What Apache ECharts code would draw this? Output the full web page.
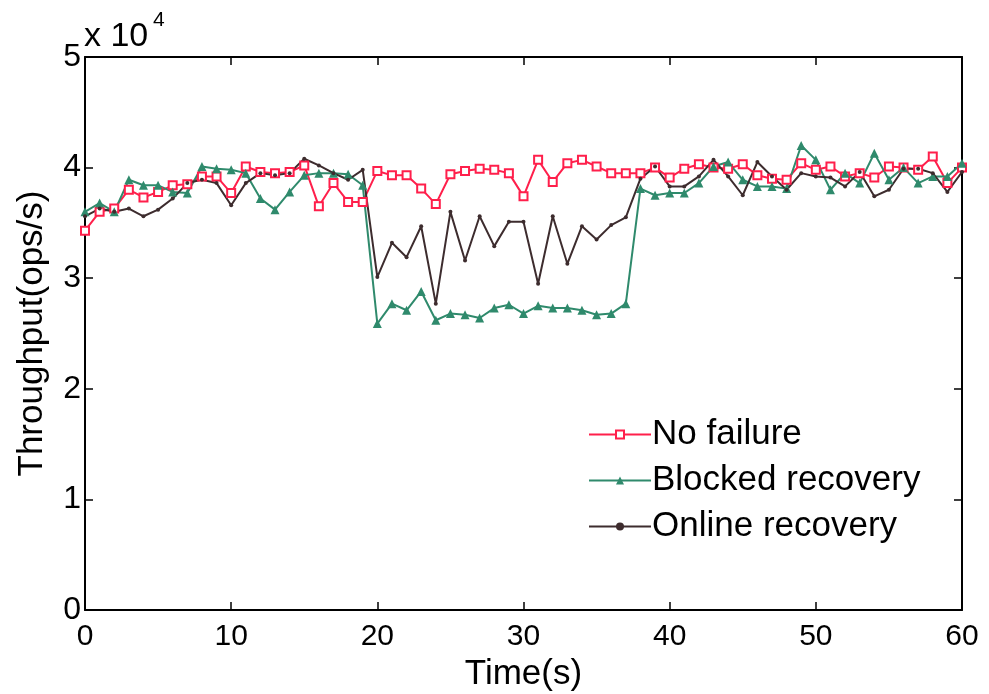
<!DOCTYPE html>
<html>
<head>
<meta charset="utf-8">
<style>
	html, body { margin: 0; padding: 0; background: #fff; }
	#chart { width: 989px; height: 694px; }
</style>
<script src="https://cdn.jsdelivr.net/npm/echarts@6/dist/echarts.min.js"></script>
</head>
<body>
<div id="chart"></div>
<script>
	// time axis, seconds
	var times = [];
	for (var t = 0; t <= 60; t++) times.push(t);
	// throughput in units of 10^4 ops/s
	var noFailure = [3.43,3.60,3.63,3.80,3.73,3.78,3.84,3.85,3.92,3.92,
		3.77,4.01,3.96,3.95,3.96,4.02,3.65,3.86,3.69,3.69,
		3.97,3.93,3.93,3.81,3.67,3.94,3.97,3.99,3.98,3.95,
		3.74,4.07,3.87,4.04,4.07,4.01,3.95,3.95,3.95,4.00,
		3.91,3.99,4.03,4.00,3.99,4.03,3.93,3.90,3.89,4.04,
		3.98,4.01,3.92,3.95,3.91,4.01,4.00,3.98,4.10,3.86,4.00];
	var blockedRecovery = [3.60,3.68,3.60,3.89,3.84,3.84,3.78,3.77,4.01,3.99,
		3.98,3.95,3.72,3.62,3.78,3.93,3.95,3.95,3.94,3.84,
		2.59,2.77,2.71,2.88,2.62,2.68,2.67,2.64,2.73,2.76,
		2.68,2.75,2.73,2.73,2.71,2.67,2.68,2.77,3.81,3.75,
		3.77,3.77,3.86,4.01,4.05,3.89,3.83,3.83,3.81,4.20,
		4.07,3.80,3.95,3.86,4.13,3.89,4.00,3.86,3.92,3.92,4.04];
	var onlineRecovery = [3.56,3.63,3.60,3.63,3.56,3.62,3.72,3.86,3.89,3.86,
		3.66,3.86,3.95,3.93,3.95,4.08,4.02,3.95,3.89,3.98,
		3.01,3.32,3.19,3.47,2.77,3.60,3.16,3.56,3.29,3.51,
		3.51,2.95,3.56,3.13,3.47,3.35,3.48,3.55,3.90,4.01,
		3.83,3.83,3.92,4.07,3.92,3.75,4.05,3.92,3.80,3.95,
		3.92,3.91,3.83,3.96,3.74,3.80,3.99,3.99,3.95,3.78,3.96];
	var seriesNames = ['No failure', 'Blocked recovery', 'Online recovery'];

	function pairs(vals) {
		return times.map(function (t, i) { return [t, vals[i]]; });
	}

	var font = 'Liberation Sans, Arial, sans-serif';
	var boxLine = { onZero: false, lineStyle: { color: '#000', width: 2 } };
	var boxTick = { inside: true, length: 8, lineStyle: { color: '#000', width: 1.5 } };
	var myChart = echarts.init(document.getElementById('chart'));
	var option = {
		animation: false,
		backgroundColor: '#fff',
		grid: { left: 85, right: 27, top: 57, bottom: 84, outerBoundsMode: 'none', containLabel: false },
		legend: {
			orient: 'vertical',
			left: 583,
			top: 412,
			itemWidth: 62,
			itemHeight: 10,
			itemGap: 11,
			textStyle: { fontFamily: font, fontSize: 35, color: '#000', padding: [0, 0, 0, -4] },
			data: seriesNames
		},
		graphic: [{
			type: 'text', left: 84, top: 20,
			style: { text: 'x 10', fontFamily: font, fontSize: 34, fill: '#000' }
		}, {
			type: 'text', left: 153, top: 10,
			style: { text: '4', fontFamily: font, fontSize: 21, fill: '#000' }
		}],
		xAxis: [{
			type: 'value', min: 0, max: 60, interval: 10,
			name: 'Time(s)', nameLocation: 'middle', nameGap: 42,
			nameTextStyle: { fontFamily: font, fontSize: 35, color: '#000' },
			axisLine: boxLine,
			axisTick: boxTick,
			axisLabel: { fontFamily: font, fontSize: 30, color: '#000', margin: 12 },
			splitLine: { show: false }
		}, {
			type: 'value', min: 0, max: 60, interval: 10, position: 'top',
			axisLine: boxLine,
			axisTick: boxTick,
			axisLabel: { show: false },
			splitLine: { show: false }
		}],
		yAxis: [{
			type: 'value', min: 0, max: 5, interval: 1,
			name: 'Throughput(ops/s)', nameLocation: 'middle', nameGap: 35,
			nameTextStyle: { fontFamily: font, fontSize: 35, color: '#000' },
			axisLine: boxLine,
			axisTick: boxTick,
			axisLabel: { fontFamily: font, fontSize: 32, color: '#000', margin: 4 },
			splitLine: { show: false }
		}, {
			type: 'value', min: 0, max: 5, interval: 1, position: 'right',
			axisLine: boxLine,
			axisTick: boxTick,
			axisLabel: { show: false },
			splitLine: { show: false }
		}],
		series: [{
			name: seriesNames[0],
			type: 'line',
			data: pairs(noFailure),
			symbol: 'emptyRect',
			symbolSize: 8,
			color: '#ff1f4b',
			lineStyle: { width: 2 },
			itemStyle: { borderWidth: 1.5 }
		}, {
			name: seriesNames[1],
			type: 'line',
			data: pairs(blockedRecovery),
			symbol: 'triangle',
			symbolSize: 9,
			color: '#2f8a6c',
			lineStyle: { width: 2 }
		}, {
			name: seriesNames[2],
			type: 'line',
			data: pairs(onlineRecovery),
			symbol: 'circle',
			symbolSize: 4,
			color: '#3d2c2e',
			lineStyle: { width: 2 }
		}]
	};
	myChart.setOption(option);
</script>
</body>
</html>
